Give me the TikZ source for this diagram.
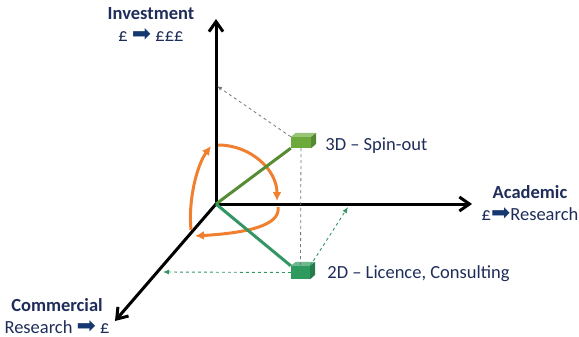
\documentclass[tikz,border=0pt]{standalone}
\usepackage{fontspec}
\setmainfont{Carlito}
\newfontfamily\arrowfont{DejaVu Sans}
\usetikzlibrary{arrows.meta, positioning}

\newcommand{\fwdarrow}{{\arrowfont\color{arrowblue}\fontsize{23}{21}\selectfont ➡}}

\begin{document}
\begin{tikzpicture}[x=1pt, y=-1pt, >=Latex]

\definecolor{navytext}{RGB}{31, 45, 90}
\definecolor{arrowblue}{RGB}{22, 56, 112}
\definecolor{spingreen}{RGB}{108, 170, 60}
\definecolor{spinline}{RGB}{88, 140, 52}
\definecolor{licgreen}{RGB}{46, 154, 94}
\definecolor{licline}{RGB}{52, 150, 100}
\definecolor{arcorange}{RGB}{240, 128, 48}
\definecolor{guidegray}{RGB}{120, 120, 120}

\useasboundingbox (0,0) rectangle (579,337);

\tikzset{
    axis/.style={
        draw=black, line width=3pt, -{Straight Barb[length=10pt, width=14pt]}
    },
    vector/.style={
        line width=3pt
    },
    cube/.style={
        rectangle, inner sep=0pt, minimum width=20pt, minimum height=11pt
    },
    guide/.style={
        draw=guidegray, dashed, line width=0.8pt, -{Latex[length=5pt, width=4pt]}
    },
    projection/.style={
        draw=licline, dashed, line width=0.9pt, -{Latex[length=6pt, width=5pt]}
    },
    turn/.style={
        draw=arcorange, line width=3pt, -{Latex[length=9pt, width=9pt]}
    },
    axislabel/.style={
        text=navytext, align=center, inner sep=0pt,
        font=\fontsize{18.5}{22}\selectfont
    },
    pointlabel/.style={
        text=navytext, inner sep=0pt, font=\fontsize{18.5}{22}\selectfont
    }
}

% --- AXES ---
\coordinate (O) at (216, 204);
\coordinate (invtop) at (216, 19);
\coordinate (acaend) at (472, 204);
\coordinate (comend) at (115, 321);
\draw[axis] (O) -- (invtop);
\draw[axis] (O) -- (acaend);
\draw[axis] (O) -- (comend);

\node[axislabel] (invlabel) at (151, 25) {\textbf{Investment}\\£ \fwdarrow\ £££};
\node[axislabel] (acalabel) at (530, 203) {\textbf{Academic}\\£\fwdarrow Research};
\node[axislabel] (comlabel) at (57, 316) {\textbf{Commercial}\\Research \fwdarrow\ £};

% --- RESEARCH ROTATION (orange arcs) ---
\draw[turn] (218, 145) .. controls (251, 145) and (277, 170) .. (277, 201);
\draw[turn] (278, 207) .. controls (281, 226) and (245, 233) .. (195, 236);
\draw[turn] (191, 230) .. controls (188, 200) and (197, 165) .. (211, 146);

% --- 3D: SPIN-OUT ---
\node[cube, fill=spingreen] (spin) at (301, 142.5) {};
\fill[spingreen!70!white] (spin.north west) -- ++(5, -4) -- ++(20, 0) -- (spin.north east) -- cycle;
\fill[spingreen!80!black] (spin.north east) -- ++(5, -4) -- ++(0, 11) -- (spin.south east) -- cycle;
\draw[vector, draw=spinline] (O) -- (spin.south west);
\node[pointlabel, right=14pt of spin, yshift=-3pt] (spintxt) {3D -- Spin-out};

% --- 2D: LICENCE, CONSULTING ---
\node[cube, fill=licgreen, minimum width=19pt, minimum height=13pt] (lic) at (300.5, 272.5) {};
\fill[licgreen!70!white] (lic.north west) -- ++(5, -4) -- ++(19, 0) -- (lic.north east) -- cycle;
\fill[licgreen!80!black] (lic.north east) -- ++(5, -4) -- ++(0, 13) -- (lic.south east) -- cycle;
\draw[vector, draw=licline] (O) -- (lic.north west);
\node[pointlabel, right=17pt of lic, yshift=-1.5pt] (lictxt) {2D -- Licence, Consulting};

% Projections
\coordinate (invproj) at (217, 86);
\coordinate (comproj) at (163, 272);
\coordinate (acaproj) at (348, 207);
\draw[guide] (spin.north west) -- (invproj);
\draw[draw=guidegray, dashed, line width=0.8pt] (spin.south) -- (lic.north);
\draw[projection] (lic.west) -- (comproj);
\draw[projection] (lic.north east) -- (acaproj);

\end{tikzpicture}
\end{document}
